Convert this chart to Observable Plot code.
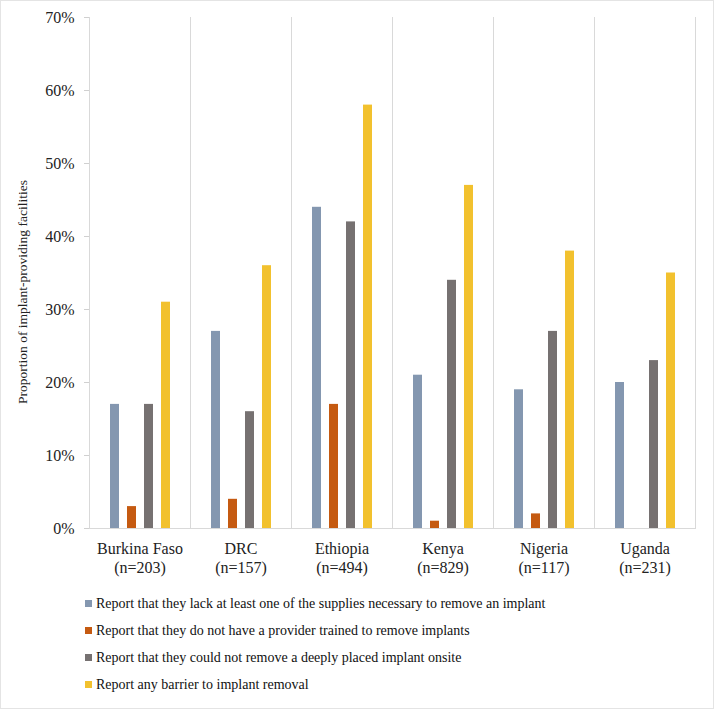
<!DOCTYPE html>
<html>
<head>
<meta charset="utf-8">
<script src="https://cdn.jsdelivr.net/npm/d3@7"></script>
<script src="https://cdn.jsdelivr.net/npm/@observablehq/plot@0.6"></script>
<style>
  html, body { margin: 0; padding: 0; background: #fff; }
  #wrap { width: 714px; height: 709px; box-sizing: border-box; border: 1px solid #e4e4e4; position: relative; overflow: hidden; font-family: "Liberation Serif", "Times New Roman", serif; color: #222; }
  #legend { position: absolute; left: 84px; top: 589px; font-family: "Liberation Serif", serif; font-size: 14px; line-height: 27px; color: #111; }
  .item { display: flex; align-items: center; white-space: nowrap; }
  .sw { width: 7px; height: 7px; margin-right: 4px; flex: none; }
  #ylabel { position: absolute; left: 22px; top: 291px; transform: translate(-50%, -50%) rotate(-90deg); white-space: nowrap; font-family: "Liberation Serif", serif; font-size: 13.5px; color: #222; }
</style>
</head>
<body>
<div id="wrap"><div id="chart"></div><div id="ylabel"></div><div id="legend"></div></div>
<script>
const countries = ["Burkina Faso", "DRC", "Ethiopia", "Kenya", "Nigeria", "Uganda"];
const sampleSizes = ["n=203", "n=157", "n=494", "n=829", "n=117", "n=231"];
const seriesNames = [
  "Report that they lack at least one of the supplies necessary to remove an implant",
  "Report that they do not have a provider trained to remove implants",
  "Report that they could not remove a deeply placed implant onsite",
  "Report any barrier to implant removal"
];
const seriesColors = ["#8497b0", "#c55a11", "#767171", "#f2c12e"];
const lackSupplies = [17, 27, 44, 21, 19, 20];
const noProvider   = [3, 4, 17, 1, 2, 0];
const deepImplant  = [17, 16, 42, 34, 27, 23];
const anyBarrier   = [31, 36, 58, 47, 38, 35];
const yTicks = [0, 10, 20, 30, 40, 50, 60, 70];
const yLabel = "Proportion of implant-providing facilities";

const seriesValues = [lackSupplies, noProvider, deepImplant, anyBarrier];
const data = [];
countries.forEach((c, i) => {
  seriesNames.forEach((s, j) => {
    data.push({country: c, series: s, value: seriesValues[j][i]});
  });
});
const nLabel = Object.fromEntries(countries.map((c, i) => [c, `${c}\n(${sampleSizes[i]})`]));

const chart = Plot.plot({
  width: 712,
  height: 585,
  marginLeft: 88,
  marginRight: 18,
  marginTop: 16,
  marginBottom: 58,
  style: {fontFamily: "'Liberation Serif', 'Times New Roman', serif", fontSize: "15px", color: "#222"},
  fx: {domain: countries, padding: 0, label: null, axis: null},
  x: {domain: seriesNames, padding: 0.5, paddingOuter: 1.17, axis: null},
  y: {domain: [0, 70], axis: null},
  color: {domain: seriesNames, range: seriesColors},
  marks: [
    Plot.frame({anchor: "left", stroke: "#d9d9d9"}),
    Plot.frame({anchor: "right", stroke: "#d9d9d9"}),
    Plot.ruleY([0], {stroke: "#d9d9d9"}),
    Plot.barY(data, {fx: "country", x: "series", y: "value", fill: "series"}),
    Plot.axisY({ticks: yTicks, tickFormat: d => d + "%", stroke: "#d0d0d0", tickSize: 5, tickPadding: 10, fontSize: 16, label: null}),
    Plot.axisFx({anchor: "bottom", tickFormat: d => nLabel[d], tickSize: 0, tickPadding: 12, fontSize: 16, lineHeight: 1.2, label: null})
  ]
});
document.getElementById("chart").appendChild(chart);
document.getElementById("ylabel").textContent = yLabel;

const legend = document.getElementById("legend");
seriesNames.forEach((s, j) => {
  const item = document.createElement("div");
  item.className = "item";
  const sw = document.createElement("span");
  sw.className = "sw";
  sw.style.background = seriesColors[j];
  const t = document.createElement("span");
  t.textContent = s;
  item.appendChild(sw);
  item.appendChild(t);
  legend.appendChild(item);
});
</script>
</body>
</html>
